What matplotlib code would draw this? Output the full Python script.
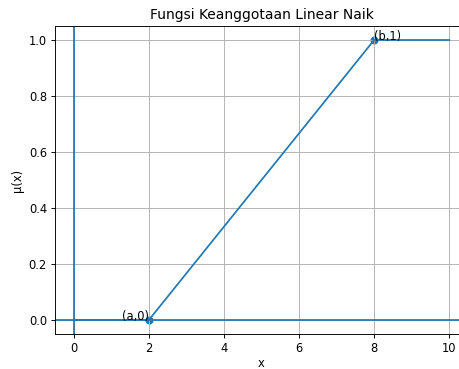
import matplotlib
matplotlib.use("Agg")
import matplotlib.pyplot as plt

x_vals = [0, 2, 8, 10]
mu_vals = [0, 0, 1, 1]
point_x = [2, 8]
point_y = [0, 1]
point_labels = ["(a,0)", "(b,1)"]

DPI = 83
fig = plt.figure(figsize=(459/DPI, 369/DPI), dpi=DPI)
ax = fig.add_axes([55/459, 1 - 334/369, 413/459, 308/369])
ax.plot(x_vals, mu_vals)
ax.scatter(point_x, point_y)
ax.text(point_x[0], point_y[0], point_labels[0], ha="right")
ax.text(point_x[1], point_y[1], point_labels[1], ha="left")
ax.axhline(0)
ax.axvline(0)
ax.set_xlim(-0.5, 10.5)
ax.set_ylim(-0.05, 1.05)
ax.set_title("Fungsi Keanggotaan Linear Naik")
ax.set_xlabel("x", labelpad=1.5)
ax.set_ylabel("μ(x)")
ax.grid(True)
fig.savefig("out.png", dpi=DPI)
